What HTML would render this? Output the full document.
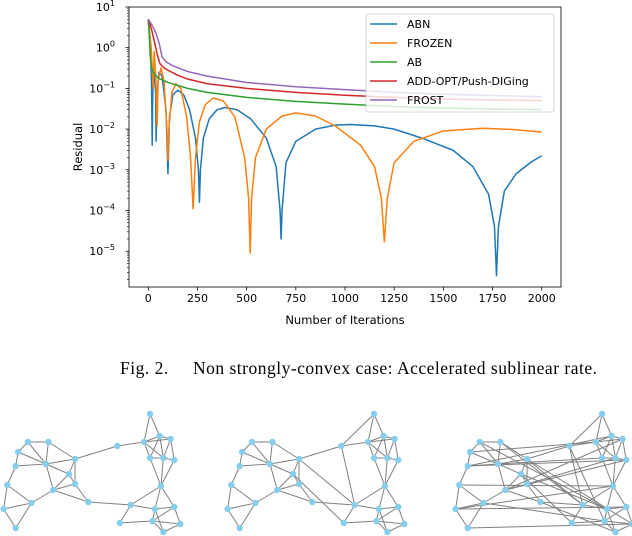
<!DOCTYPE html>
<html><head><meta charset="utf-8"><style>
html,body{margin:0;padding:0;background:#fff;width:632px;height:536px;overflow:hidden}
svg{display:block}
text{font-family:"DejaVu Sans","Liberation Sans",sans-serif;fill:#000}
</style></head><body>
<svg id="s" width="632" height="536" xmlns="http://www.w3.org/2000/svg">
<g id="plot"></g>
<text x="120" y="374" textLength="477" lengthAdjust="spacing" style="font-family:'Liberation Serif',serif;font-size:17.5px">Fig. 2.&#160;&#160;&#160;&#160;&#160;Non strongly-convex case: Accelerated sublinear rate.</text>
<g id="graphs"></g>
</svg>
<script>
const xTicks=[0,250,500,750,1000,1250,1500,1750,2000];
const yTickExps=[1,0,-1,-2,-3,-4,-5];
const seriesNames=["ABN","FROZEN","AB","ADD-OPT/Push-DIGing","FROST"];
const seriesColors=["#1f77b4","#ff7f0e","#2ca02c","#d62728","#9467bd"];
const abnX=[0,10,17,20,23,30,37,40,44,55,70,90,100,108,125,150,180,210,240,255,260,265,280,310,350,390,450,520,600,650,670,675,680,700,750,850,950,1030,1150,1250,1400,1550,1650,1730,1760,1770,1780,1810,1870,1950,2000];
const abnY=[5,1.5,0.1,0.004,0.1,0.25,0.08,0.005,0.08,0.25,0.2,0.03,0.0008,0.02,0.07,0.09,0.07,0.03,0.006,0.001,0.00016,0.001,0.006,0.018,0.03,0.034,0.03,0.018,0.006,0.0012,0.0001,0.00002,0.0001,0.0015,0.005,0.01,0.0125,0.013,0.012,0.01,0.0058,0.003,0.0012,0.00025,0.00004,0.0000025,0.00004,0.0003,0.0008,0.0016,0.0022];
const frozenX=[0,15,25,30,38,45,50,65,80,95,100,105,120,140,165,195,215,228,240,260,290,330,380,440,490,510,518,525,545,600,680,750,850,950,1080,1150,1185,1200,1215,1250,1350,1500,1700,1850,2000];
const frozenY=[5,1,0.1,0.8,0.2,0.012,0.15,0.32,0.15,0.01,0.0017,0.01,0.08,0.13,0.1,0.02,0.002,0.00011,0.002,0.015,0.04,0.058,0.05,0.02,0.002,0.0002,0.000009,0.0002,0.002,0.01,0.021,0.025,0.021,0.012,0.004,0.0012,0.0002,0.000017,0.0002,0.0015,0.005,0.009,0.0105,0.0098,0.0085];
const abX=[0,5,10,15,25,50,100,200,300,500,750,1000,1250,1500,1750,2000];
const abY=[5,2,0.6,0.35,0.25,0.18,0.14,0.1,0.08,0.06,0.048,0.041,0.036,0.033,0.031,0.03];
const addX=[0,15,30,45,60,80,100,150,200,300,500,750,1000,1250,1500,1750,2000];
const addY=[5,3,1.5,0.7,0.4,0.32,0.28,0.21,0.17,0.13,0.1,0.08,0.068,0.06,0.055,0.052,0.05];
const frostX=[0,20,40,55,70,90,120,200,300,500,750,1000,1250,1500,1750,2000];
const frostY=[5,3.5,2.2,1.3,0.6,0.45,0.37,0.26,0.2,0.14,0.11,0.093,0.08,0.072,0.067,0.063];

const NS="http://www.w3.org/2000/svg";
const L=129,R=561,T=7,B=287,XMIN=-98,XMAX=2098,DEC=40.7;
function xs(v){return L+(v-XMIN)*(R-L)/(XMAX-XMIN);}
function ys(v){return T+(1-Math.log10(v))*DEC;}
function mk(tag,attrs,parent){const e=document.createElementNS(NS,tag);for(const k in attrs)e.setAttribute(k,attrs[k]);parent.appendChild(e);return e;}
const plot=document.getElementById('plot');
const defs=mk('defs',{},plot);
const cp=mk('clipPath',{id:'cp'},defs);mk('rect',{x:L,y:T,width:R-L,height:B-T},cp);
const allX=[abnX,frozenX,abX,addX,frostX],allY=[abnY,frozenY,abY,addY,frostY];
const lines=mk('g',{'clip-path':'url(#cp)'},plot);
for(let s=0;s<5;s++){
 let d='';for(let i=0;i<allX[s].length;i++)d+=(i?'L':'M')+xs(allX[s][i]).toFixed(2)+' '+ys(allY[s][i]).toFixed(2);
 const p=mk('path',{d:d,fill:'none',stroke:seriesColors[s],'stroke-width':1.5,'stroke-linejoin':'round'},lines);
 
 
}
const fr=mk('rect',{x:L,y:T,width:R-L,height:B-T,fill:'none',stroke:'#000','stroke-width':0.8},plot);


for(const t of xTicks){
 mk('line',{x1:xs(t),x2:xs(t),y1:B,y2:B+3.5,stroke:'#000','stroke-width':0.8},plot);
 const tx=mk('text',{x:xs(t),y:B+15,'text-anchor':'middle','font-size':11},plot);tx.textContent=t;
 
 
}
for(const e of yTickExps){
 const y=T+(1-e)*DEC;
 mk('line',{x1:L-3.5,x2:L,y1:y,y2:y,stroke:'#000','stroke-width':0.8},plot);
 const tx=mk('text',{x:L-14,y:y+4,'text-anchor':'end','font-size':11},plot);
 
 
 tx.textContent='10';
 const sp=mk('tspan',{dy:-5,'font-size':8},tx);sp.textContent=(e<0?'\u2212':'')+Math.abs(e);
}
for(let e=-6;e<1;e++)for(let m=2;m<10;m++){const v=m*Math.pow(10,e);const y=ys(v);if(y>B||y<T)continue;mk('line',{x1:L-2,x2:L,y1:y,y2:y,stroke:'#000','stroke-width':0.6},plot);}
const xl=mk('text',{x:(L+R)/2,y:324,'text-anchor':'middle','font-size':11.5},plot);xl.textContent='Number of Iterations';


const yl=mk('text',{x:0,y:0,'text-anchor':'middle','font-size':11.5,transform:'translate(82,147) rotate(-90)'},plot);yl.textContent='Residual';


const lg=mk('g',{},plot);


mk('rect',{x:366,y:14,width:188,height:98,rx:2,fill:'#fff','fill-opacity':0.8,stroke:'#ccc','stroke-width':0.8},lg);
for(let s=0;s<5;s++){
 const y=24+s*19;
 mk('line',{x1:370,x2:397,y1:y,y2:y,stroke:seriesColors[s],'stroke-width':1.5},lg);
 const t=mk('text',{x:407,y:y+4,'font-size':11},lg);t.textContent=seriesNames[s];
 
 
}
const nodes=[[124,414],[132,436],[141,439],[119,442],[97,446],[40,442],[23,442],[15,452],[62,459],[38,464],[13,466],[124,458],[135,458],[144,460],[57,474],[62,484],[6,485],[133,486],[44,490],[26,503],[73,502],[108,505],[128,509],[144,507],[3,509],[126,521],[149,524],[99,523],[13,528],[135,532]];
const baseEdges=[[0,1],[0,3],[1,2],[1,3],[2,3],[1,11],[2,12],[3,11],[3,4],[4,8],[1,12],[2,13],[11,12],[12,13],[11,17],[13,17],[12,17],[3,12],[5,6],[5,9],[6,7],[6,9],[7,10],[5,8],[8,9],[9,14],[8,14],[8,15],[14,15],[9,18],[15,18],[14,18],[10,16],[16,19],[10,9],[16,24],[19,24],[19,28],[19,18],[18,20],[15,20],[20,21],[21,27],[21,22],[17,21],[17,22],[22,23],[22,25],[22,29],[23,26],[25,26],[25,29],[26,29],[23,25],[27,25],[7,9],[24,28],[17,23]];
const extra2=[[4,21],[8,21],[0,4],[14,27]];
const extra3=[[10,13],[16,17],[24,23],[28,26],[9,11],[7,3],[18,13],[14,22],[19,25],[5,21],[20,29],[15,12],[4,25],[8,26],[10,1],[6,22],[18,2],[24,17]];
const gg=document.getElementById('graphs');
const offs=[0,224,452];
const SX=1.21;
for(let g=0;g<3;g++){
 const grp=mk('g',{},gg);
 
 
 let edges=baseEdges.slice();if(g>=1)edges=edges.concat(extra2);if(g==2)edges=edges.concat(extra3);
 for(const [a,b] of edges)mk('line',{x1:nodes[a][0]*SX+offs[g],y1:nodes[a][1],x2:nodes[b][0]*SX+offs[g],y2:nodes[b][1],stroke:'#808080','stroke-width':1},grp);
 for(const n of nodes)mk('circle',{cx:n[0]*SX+offs[g],cy:n[1],r:3.2,fill:'#87ceeb'},grp);
}
</script>
</body></html>
